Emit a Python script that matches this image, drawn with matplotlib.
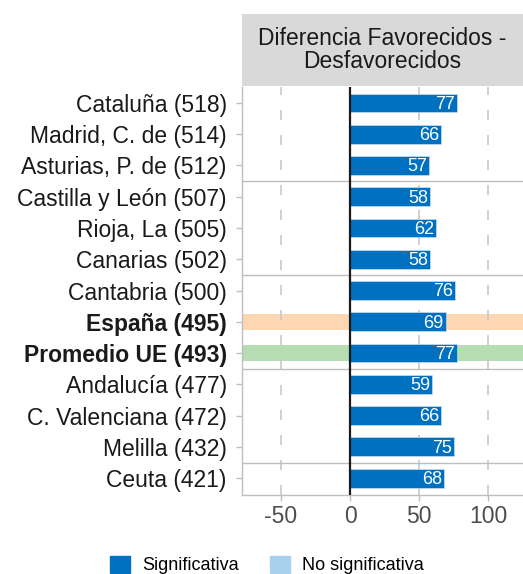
import numpy as np
import matplotlib
matplotlib.use("Agg")
import matplotlib.pyplot as plt
from matplotlib.patches import Patch, Rectangle

plt.rcParams['font.family'] = ['Liberation Sans', 'DejaVu Sans']

regions = ["Cataluña (518)", "Madrid, C. de (514)", "Asturias, P. de (512)",
           "Castilla y León (507)", "Rioja, La (505)", "Canarias (502)",
           "Cantabria (500)", "España (495)", "Promedio UE (493)",
           "Andalucía (477)", "C. Valenciana (472)", "Melilla (432)", "Ceuta (421)"]
diff = [77, 66, 57, 58, 62, 58, 76, 69, 77, 59, 66, 75, 68]
significant = [True] * 13
bold_rows = ["España (495)", "Promedio UE (493)"]
highlight = {"España (495)": "#FDD7B2", "Promedio UE (493)": "#B6DEB2"}
separators = [2.5, 5.5, 8.5, 11.5]
xticks = [-50, 0, 50, 100]

dark_blue = "#0070C0"
light_blue = "#A9D0EC"

fig = plt.figure(figsize=(5.23, 5.74), dpi=100)
ax = fig.add_axes([0.463, 0.1376, 0.537, 0.7108])

y = np.arange(len(regions))

# highlight bands
for i, name in enumerate(regions):
    if name in highlight:
        ax.axhspan(i - 0.26, i + 0.26, color=highlight[name], lw=0, zorder=0)

# grid
for xv in [-50, 50, 100]:
    ax.axvline(xv, color="#C8C8C8", lw=1.2, ls=(0, (6, 9)), zorder=1)
for s in separators:
    ax.axhline(s, color="#BEBEBE", lw=1.0, zorder=1)

colors = [dark_blue if s else light_blue for s in significant]
ax.barh(y, diff, height=0.6, color=colors, edgecolor="#DCE9F5", lw=0.4, zorder=2)
ax.axvline(0, color="#1a1a1a", lw=1.6, zorder=3)

for i, v in enumerate(diff):
    ax.text(v - 1.2, i + 0.04, str(v), color="white", ha="right", va="center",
            fontsize=13, zorder=4)

ax.set_xlim(-78, 125)
ax.set_ylim(12.54, -0.51)
ax.set_xticks(xticks)
ax.set_xticklabels([str(t) for t in xticks], fontsize=16.5, color="#4D4D4D")
ax.set_yticks(y)
ax.set_yticklabels(regions, fontsize=16.5, color="#1a1a1a")
for lab in ax.get_yticklabels():
    if lab.get_text() in bold_rows:
        lab.set_fontweight("bold")
ax.tick_params(axis="both", color="#BEBEBE", length=4, width=1)
ax.tick_params(axis="x", pad=3)
ax.tick_params(axis="y", pad=7)
for side in ["top", "right"]:
    ax.spines[side].set_visible(False)
for side in ["left", "bottom"]:
    ax.spines[side].set_color("#BEBEBE")
    ax.spines[side].set_linewidth(1.0)

# facet strip
strip = fig.add_axes([0.463, 0.8502, 0.537, 0.1254])
strip.add_patch(Rectangle((0, 0), 1, 1, color="#D9D9D9", transform=strip.transAxes))
strip.text(0.5, 0.5, "Diferencia Favorecidos -\nDesfavorecidos", ha="center", va="center",
           fontsize=16.5, color="#1a1a1a", linespacing=1.0)
strip.set_axis_off()

handles = [Patch(color=dark_blue, label="Significativa"),
           Patch(color=light_blue, label="No significativa")]
fig.legend(handles=handles, loc="center", bbox_to_anchor=(0.51, 1 - 565 / 574), ncol=2,
           frameon=False, fontsize=13, handlelength=1.1, handleheight=1.1,
           columnspacing=1.75, handletextpad=0.65, borderpad=0)

fig.savefig("out.png", dpi=100)
